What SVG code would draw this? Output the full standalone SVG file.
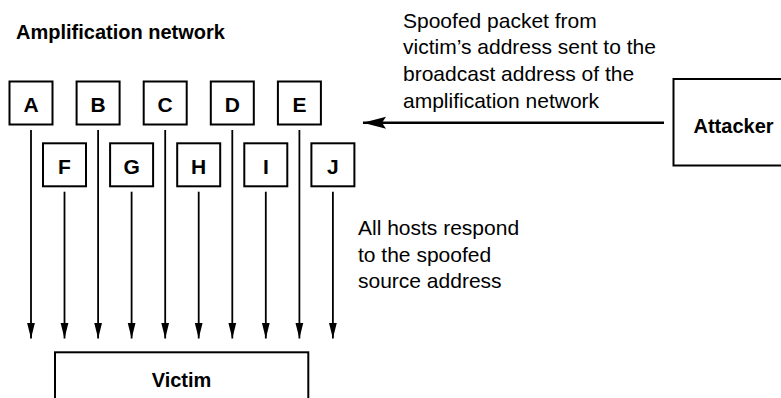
<svg xmlns="http://www.w3.org/2000/svg" width="781" height="398" viewBox="0 0 781 398">
<style>
.box{fill:#fff;stroke:#000;stroke-width:2}
.lbl{font-family:"Liberation Sans",Arial,sans-serif;font-weight:bold;font-size:20px;fill:#000;text-anchor:middle}
.hl{font-size:21px}
.txt{font-family:"Liberation Sans",Arial,sans-serif;font-size:21px;fill:#000}
.conn{stroke:#000;stroke-width:1.8;fill:none}
</style>
<defs>
<marker id="ah" markerUnits="userSpaceOnUse" markerWidth="17" markerHeight="10" refX="16" refY="5" orient="auto">
<path d="M0,1 L16,5 L0,9 Z" fill="#000"/>
</marker>
<marker id="ahb" markerUnits="userSpaceOnUse" markerWidth="24" markerHeight="14" refX="23" refY="7" orient="auto">
<path d="M0,1 L23,7 L0,13 L4,7 Z" fill="#000"/>
</marker>
</defs>
<text class="lbl" x="16" y="38.5" style="text-anchor:start">Amplification network</text>
<g id="text-spoof" class="txt">
<text x="403" y="27.7">Spoofed packet from</text>
<text x="403" y="54.4">victim’s address sent to the</text>
<text x="403" y="81">broadcast address of the</text>
<text x="403" y="107.7">amplification network</text>
</g>
<g id="text-respond" class="txt">
<text x="358" y="235">All hosts respond</text>
<text x="358" y="261.7">to the spoofed</text>
<text x="358" y="288.4">source address</text>
</g>
<g id="A"><rect class="box" x="9.5" y="81.5" width="43" height="43"/><text class="lbl hl" x="31" y="111.5">A</text></g>
<g id="B"><rect class="box" x="76.6" y="81.5" width="43" height="43"/><text class="lbl hl" x="98.1" y="111.5">B</text></g>
<g id="C"><rect class="box" x="143.7" y="81.5" width="43" height="43"/><text class="lbl hl" x="165.2" y="111.5">C</text></g>
<g id="D"><rect class="box" x="210.8" y="81.5" width="43" height="43"/><text class="lbl hl" x="232.3" y="111.5">D</text></g>
<g id="E"><rect class="box" x="277.9" y="81.5" width="43" height="43"/><text class="lbl hl" x="299.4" y="111.5">E</text></g>
<g id="F"><rect class="box" x="43" y="143.3" width="43" height="43"/><text class="lbl hl" x="64.5" y="173.5">F</text></g>
<g id="G"><rect class="box" x="110.1" y="143.3" width="43" height="43"/><text class="lbl hl" x="131.6" y="173.5">G</text></g>
<g id="H"><rect class="box" x="177.2" y="143.3" width="43" height="43"/><text class="lbl hl" x="198.7" y="173.5">H</text></g>
<g id="I"><rect class="box" x="244.3" y="143.3" width="43" height="43"/><text class="lbl hl" x="265.8" y="173.5">I</text></g>
<g id="J"><rect class="box" x="311.4" y="143.3" width="43" height="43"/><text class="lbl hl" x="332.9" y="173.5">J</text></g>
<g id="attacker"><rect class="box" x="673.5" y="79" width="130" height="86.5"/><text class="lbl" x="693.5" y="133" style="text-anchor:start">Attacker</text></g>
<g id="victim"><rect class="box" x="55" y="352.3" width="253.3" height="60"/><text class="lbl" x="181.5" y="386.7">Victim</text></g>
<g id="connectors">
<line class="conn" x1="664" y1="122.7" x2="363" y2="122.7" style="stroke-width:2.6" marker-end="url(#ahb)"/>
<line class="conn" x1="31" y1="130" x2="31" y2="338.5" marker-end="url(#ah)"/>
<line class="conn" x1="98.1" y1="130" x2="98.1" y2="338.5" marker-end="url(#ah)"/>
<line class="conn" x1="165.2" y1="130" x2="165.2" y2="338.5" marker-end="url(#ah)"/>
<line class="conn" x1="232.3" y1="130" x2="232.3" y2="338.5" marker-end="url(#ah)"/>
<line class="conn" x1="299.4" y1="130" x2="299.4" y2="338.5" marker-end="url(#ah)"/>
<line class="conn" x1="64.5" y1="191.7" x2="64.5" y2="338.5" marker-end="url(#ah)"/>
<line class="conn" x1="131.6" y1="191.7" x2="131.6" y2="338.5" marker-end="url(#ah)"/>
<line class="conn" x1="198.7" y1="191.7" x2="198.7" y2="338.5" marker-end="url(#ah)"/>
<line class="conn" x1="265.8" y1="191.7" x2="265.8" y2="338.5" marker-end="url(#ah)"/>
<line class="conn" x1="332.9" y1="191.7" x2="332.9" y2="338.5" marker-end="url(#ah)"/>
</g>
</svg>
